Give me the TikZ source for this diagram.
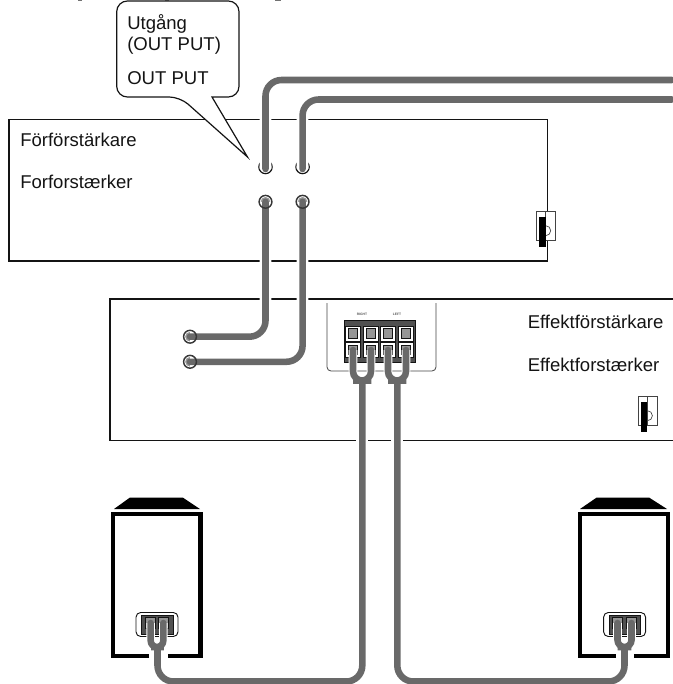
\documentclass[tikz,border=0pt]{standalone}
\usepackage{fontspec}
\setmainfont{Liberation Sans}
\usetikzlibrary{positioning, calc}
\definecolor{cablegray}{RGB}{105,105,105}
\definecolor{inkblack}{RGB}{20,20,20}
\definecolor{jackgray}{RGB}{150,150,150}
\definecolor{termgray}{RGB}{80,80,80}
\tikzset{
    unitbox/.style={rectangle, draw=inkblack, line width=1.2pt, anchor=north west, inner sep=0pt, outer sep=0pt},
    unitlabel/.style={font=\fontsize{13.9pt}{15.6pt}\selectfont, text=inkblack, anchor=base west, inner sep=0pt},
    jackout/.style={circle, draw=inkblack, fill=white, line width=0.9pt, minimum size=10pt, inner sep=0pt, outer sep=0pt},
    jackin/.style={circle, draw=white, fill=jackgray, line width=0.7pt, minimum size=8.2pt, inner sep=0pt, outer sep=0pt},
    jackring/.style={circle, draw=inkblack!85, line width=1.1pt, minimum size=9.6pt, inner sep=0pt, outer sep=0pt},
    cable/.style={draw=cablegray, line width=4.9pt, line cap=round, rounded corners=12pt, preaction={draw=white, line cap=butt, line width=#1}},
    cable/.default=8.8pt,
    cablegap/.style={draw=white, line width=8.8pt},
    termblock/.style={rectangle, draw=inkblack, fill=termgray, line width=0.5pt, inner sep=0pt, outer sep=0pt},
    termcell/.style={rectangle, draw=inkblack, fill=white, line width=0.4pt, minimum size=#1, inner sep=0pt, outer sep=0pt},
    termhole/.style={rectangle, draw=inkblack, fill=jackgray, line width=0.7pt, minimum size=#1, inner sep=0pt, outer sep=0pt},
    panelline/.style={draw=inkblack!80, line width=0.6pt, rounded corners=3pt},
    tinylabel/.style={font=\fontsize{2.5pt}{3pt}\selectfont\bfseries, text=inkblack!70, inner sep=0pt},
    speakerwall/.style={draw=black, line width=3.2pt, line join=miter},
    speakertop/.style={fill=black},
    speakerplate/.style={rectangle, draw=inkblack, fill=white, rounded corners=3.5pt, line width=0.7pt, minimum width=31.5pt, minimum height=18pt, inner sep=0pt, outer sep=0pt},
    plugicon/.pic={
        \draw[draw=inkblack!80, line width=0.6pt, fill=white] (0,0) rectangle (19,29);
        \draw[draw=inkblack!80, line width=0.5pt] (9,0) -- (9,29);
        \draw[draw=inkblack!80, line width=0.5pt] (9,14) arc[start angle=-90, end angle=90, radius=5];
        \fill[black] (2.3,5.3) rectangle (9,35);
    }
}
\begin{document}
\begin{tikzpicture}[x=0.75pt, y=-0.75pt]
\useasboundingbox (0,0) rectangle (672,684);

\foreach \mx/\mw in {80/4,167/4,278/6} {
    \fill[inkblack!60] (\mx-\mw/2,0) rectangle (\mx+\mw/2,1);
}

\node[unitbox, minimum width=404pt, minimum height=105.9pt] (preamp) at (8.7,119.7) {};
\node[unitbox, minimum width=440pt, minimum height=106.2pt] (poweramp) at (110,299) {};

\node[unitlabel] (preSv) at (20,146.7) {Förförstärkare};
\node[unitlabel, below=31.4pt of preSv.base west, anchor=base west] (preDa) {Forforstærker};
\node[unitlabel] (powerSv) at (527.5,328) {Effektförstärkare};
\node[unitlabel, below=32.8pt of powerSv.base west, anchor=base west] (powerDa) {Effektforstærker};

\pic at (536.7,211.7) {plugicon};
\pic at (638.4,396.7) {plugicon};

\fill[white, draw=inkblack, line width=0.9pt, rounded corners=8pt] (116.7,1) -- (116.7,97) -- (180,97) [sharp corners] -- (247.5,157) -- (212,97) [rounded corners=8pt] -- (239,97) -- (239,1) -- cycle;
\node[unitlabel] (outSv) at (127,30) {Utgång};
\node[unitlabel, below=15.6pt of outSv.base west, anchor=base west] (outEn) {(OUT PUT)};
\node[unitlabel, below=25.5pt of outEn.base west, anchor=base west] (outDa) {OUT PUT};

\node[jackout] (outA) at (265.5,167) {};
\node[jackout, right=17.8pt of outA] (outB) {};
\node[jackin, below=17pt of outA] (inA) {};
\node[jackin, below=17pt of outB] (inB) {};
\node[jackin] (ampA) at (190,336.7) {};
\node[jackin, below=10.6pt of ampA] (ampB) {};
\coordinate (inputA) at (672,80);
\coordinate (inputB) at (672,99.5);

\draw[cable] (outA.center) ++(0,2) |- (inputA);
\draw[cable] (outB.center) ++(0,2) |- (inputB);
\draw[cable] (inA.center) |- (ampA.center);
\draw[cable] (inB.center) |- (ampB.center);
\foreach \jackname in {inA,inB,ampA,ampB} {
    \node[jackring] at (\jackname) {};
}

\coordinate (panelTL) at (327,303);
\coordinate (panelBR) at (436,371);
\draw[panelline] (panelTL) |- (panelBR) -- (panelBR |- panelTL);
\node[termblock, minimum width=53.2pt, minimum height=31.5pt, anchor=north west] (termpanel) at (344,320) {};
\node[tinylabel] (rightlabel) at (362,314) {RIGHT};
\node[tinylabel] (leftlabel) at (397,314) {LEFT};
\foreach \cx/\cn in {353/A,371/B,388/C,406/D} {
    \node[termcell=11.4pt] (top\cn) at (\cx,333.5) {};
    \node[termcell=11.4pt] (bot\cn) at (\cx,350) {};
    \node[termhole=7pt] at (top\cn) {};
    \node[termhole=7pt] at (bot\cn) {};
}

\draw[speakerwall] (149,656) -| (112.8,513.8) -| (200.6,656) -- (168,656);
\draw[speakerwall] (616,656) -| (579.8,513.8) -| (667.9,656) -- (634,656);
\fill[speakertop] (130,497.5) -- (182.7,497.5) -- (200,509) -- (114,509) -- cycle;
\fill[speakertop] (596.7,497.5) -- (649,497.5) -- (667,509) -- (580,509) -- cycle;

\node[speakerplate] (plateL) at (157,624.5) {};
\node[speakerplate] (plateR) at (624.6,624.5) {};
\node[termblock, minimum width=23.5pt, minimum height=14.5pt] (blockL) at (157.2,625) {};
\node[termblock, minimum width=23.5pt, minimum height=14.5pt] (blockR) at (624.8,625) {};
\foreach \pn/\px in {La/150.7,Lb/163.3,Ra/617.5,Rb/631.5} {
    \node[termhole=7.6pt] (spk\pn) at (\px,623) {};
}

\coordinate (forkAmpL) at (362.3,380.5);
\coordinate (forkAmpR) at (397.3,380.5);
\coordinate (forkSpkL) at (157.5,647);
\coordinate (forkSpkR) at (624.5,647);
\coordinate (floorL) at (260,681.5);
\coordinate (floorR) at (510,681.5);

\draw[cablegap] (forkAmpL |- poweramp.south) ++(0,-4) -- ++(0,8);
\draw[cablegap] (forkAmpR |- poweramp.south) ++(0,-4) -- ++(0,8);

\draw[cable=6.4pt] (forkAmpL) |- (floorL) -| (forkSpkL)
    [rounded corners=6.8pt] (botA.center) |- (forkAmpL) -| (botB.center)
    [rounded corners=4.7pt] (spkLa.center) |- (forkSpkL) -| (spkLb.center);
\draw[cable=6.4pt] (forkAmpR) |- (floorR) -| (forkSpkR)
    [rounded corners=6.8pt] (botC.center) |- (forkAmpR) -| (botD.center)
    [rounded corners=5.2pt] (spkRa.center) |- (forkSpkR) -| (spkRb.center);

\end{tikzpicture}
\end{document}
